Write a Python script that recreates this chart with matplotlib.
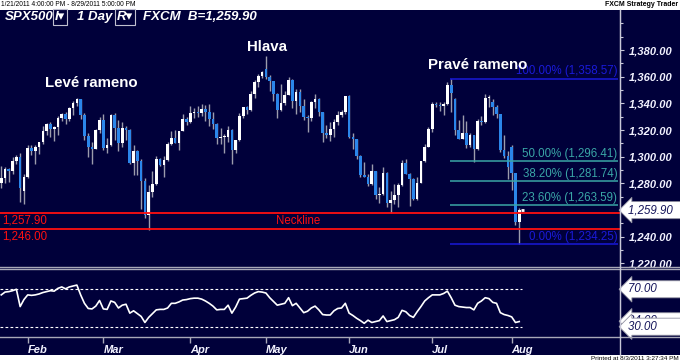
import matplotlib
matplotlib.use('Agg')
import matplotlib.pyplot as plt
from matplotlib.lines import Line2D
from matplotlib.patches import Rectangle
import pandas as pd

# bars printed by the FXCM SPX500 CFD (it also trades Feb 21, May 30 and Jul 4)
trading_days = {
    1: [21, 24, 25, 26, 27, 28, 31],
    2: [1, 2, 3, 4, 7, 8, 9, 10, 11, 14, 15, 16, 17, 18, 21, 22, 23, 24, 25, 28],
    3: [1, 2, 3, 4, 7, 8, 9, 10, 11, 14, 15, 16, 17, 18, 21, 22, 23, 24, 25, 28, 29, 30, 31],
    4: [1, 4, 5, 6, 7, 8, 11, 12, 13, 14, 15, 18, 19, 20, 21, 25, 26, 27, 28, 29],
    5: [2, 3, 4, 5, 6, 9, 10, 11, 12, 13, 16, 17, 18, 19, 20, 23, 24, 25, 26, 27, 30, 31],
    6: [1, 2, 3, 6, 7, 8, 9, 10, 13, 14, 15, 16, 17, 20, 21, 22, 23, 24, 27, 28, 29, 30],
    7: [1, 4, 5, 6, 7, 8, 11, 12, 13, 14, 15, 18, 19, 20, 21, 22, 25, 26, 27, 28, 29],
    8: [1, 2, 3],
}

opens = [1280.5, 1284.0, 1290.8, 1289.5, 1296.6, 1299.5, 1274.0,
         1285.0, 1306.5, 1304.0, 1307.1, 1310.9, 1319.1, 1324.6, 1320.9, 1321.9, 1329.2, 1332.3, 1328.0,
         1336.3, 1340.4, 1343.0, 1331.0, 1315.4, 1307.4, 1306.1, 1319.9,
         1327.2, 1306.3, 1308.4, 1331.0, 1321.2, 1310.1, 1321.8, 1320.0, 1295.1, 1304.3, 1296.4, 1281.9,
         1256.5, 1273.7, 1279.2, 1298.4, 1293.8, 1297.5, 1309.7, 1313.8, 1310.2, 1319.4, 1328.3,
         1325.8, 1332.4, 1332.9, 1332.6, 1335.5, 1333.5, 1328.2, 1324.5, 1314.2, 1314.4, 1314.5, 1319.7,
         1305.1, 1312.6, 1330.4, 1337.4, 1335.3, 1347.2, 1355.7, 1360.5,
         1366.0, 1360.0, 1356.6, 1347.3, 1335.1, 1340.2, 1346.3, 1357.2, 1342.1, 1348.7, 1337.8, 1329.5,
         1329.0, 1340.7, 1343.6, 1333.3, 1317.4, 1316.3, 1320.5, 1325.7, 1331.1, 1333.5,
         1345.2, 1314.6, 1312.9, 1300.2, 1286.2, 1284.9, 1279.6, 1289.0, 1271.0, 1271.8, 1287.9, 1265.4,
         1267.6, 1271.5, 1278.4, 1295.5, 1287.1, 1283.5, 1268.5, 1280.1, 1296.7, 1307.4,
         1320.6, 1339.7, 1339.0, 1337.9, 1339.2, 1354.0, 1343.0, 1320.0, 1313.6, 1317.7, 1308.9, 1316.1,
         1305.4, 1326.7, 1325.8, 1343.8, 1341.0, 1337.4, 1331.9, 1304.9, 1300.7,
         1307.0, 1287.5, 1251.0]
highs = [1293.3, 1291.9, 1291.3, 1299.7, 1301.3, 1302.7, 1287.2,
         1308.9, 1308.5, 1308.6, 1311.0, 1322.9, 1324.9, 1326.0, 1322.8, 1330.8, 1332.9, 1333.5, 1337.6,
         1341.5, 1344.1, 1343.5, 1333.0, 1317.9, 1310.9, 1320.6, 1329.4,
         1332.1, 1314.2, 1332.3, 1333.0, 1327.7, 1325.7, 1323.2, 1320.5, 1308.4, 1305.0, 1298.0, 1284.0,
         1279.0, 1288.9, 1300.6, 1299.3, 1300.5, 1311.3, 1319.2, 1319.7, 1319.5, 1331.7, 1329.8,
         1337.9, 1336.7, 1338.2, 1339.4, 1338.8, 1339.5, 1333.8, 1325.0, 1321.4, 1316.8, 1322.9, 1320.5,
         1312.7, 1332.7, 1337.5, 1338.0, 1349.6, 1357.5, 1361.7, 1364.6,
         1375.5, 1361.0, 1357.0, 1348.0, 1354.4, 1349.4, 1359.4, 1358.0, 1351.1, 1350.5, 1343.3, 1331.0,
         1341.8, 1346.8, 1344.0, 1333.5, 1323.7, 1325.9, 1328.5, 1334.6, 1335.0, 1345.5,
         1346.0, 1318.0, 1313.5, 1301.0, 1296.2, 1287.0, 1294.5, 1289.5, 1277.0, 1292.5, 1288.5, 1274.1,
         1279.8, 1280.4, 1297.6, 1298.6, 1288.0, 1284.0, 1284.9, 1296.8, 1309.2, 1322.0,
         1341.0, 1341.0, 1340.9, 1340.9, 1356.0, 1358.57, 1344.0, 1327.2, 1331.5, 1326.9, 1317.7, 1316.5,
         1328.1, 1330.4, 1347.0, 1346.1, 1343.0, 1338.5, 1332.0, 1316.3, 1304.0,
         1309.0, 1288.0, 1261.2]
lows = [1276.5, 1280.5, 1281.1, 1287.0, 1294.4, 1266.0, 1264.5,
        1284.0, 1301.0, 1294.8, 1301.7, 1309.5, 1316.0, 1314.9, 1311.7, 1316.1, 1326.9, 1324.6, 1327.0,
        1331.0, 1338.1, 1328.0, 1312.3, 1299.6, 1294.3, 1305.5, 1318.0,
        1305.0, 1302.6, 1308.0, 1312.6, 1303.9, 1306.9, 1312.3, 1294.2, 1286.0, 1286.4, 1261.1, 1254.0,
        1245.0, 1270.0, 1279.0, 1292.7, 1285.0, 1296.5, 1308.5, 1310.0, 1305.3, 1319.0, 1324.0,
        1325.0, 1329.1, 1330.0, 1330.7, 1326.6, 1322.9, 1321.1, 1309.5, 1309.2, 1302.4, 1311.0, 1294.7,
        1303.0, 1312.0, 1329.0, 1331.7, 1334.5, 1344.3, 1352.0, 1358.7,
        1358.6, 1349.5, 1341.5, 1329.2, 1334.0, 1338.6, 1346.0, 1336.4, 1332.0, 1333.4, 1327.3, 1318.5,
        1326.6, 1336.4, 1330.7, 1311.0, 1313.9, 1311.8, 1314.4, 1324.0, 1329.5, 1332.0,
        1313.7, 1305.6, 1297.9, 1284.9, 1284.7, 1278.1, 1279.0, 1268.3, 1265.6, 1271.5, 1261.9, 1258.1,
        1264.5, 1262.0, 1278.0, 1286.8, 1262.9, 1267.2, 1267.5, 1280.0, 1296.0, 1307.0,
        1318.2, 1337.0, 1334.3, 1330.9, 1339.0, 1333.7, 1316.4, 1313.3, 1313.0, 1306.5, 1307.4, 1295.9,
        1305.0, 1323.7, 1325.0, 1336.95, 1331.1, 1329.1, 1303.5, 1299.2, 1282.9,
        1274.7, 1249.0, 1234.25]
closes = [1284.0, 1290.8, 1289.5, 1296.6, 1299.5, 1276.3, 1285.0,
          1306.5, 1304.0, 1307.1, 1310.9, 1319.1, 1324.6, 1320.9, 1321.9, 1329.2, 1332.3, 1328.0, 1336.3,
          1340.4, 1343.0, 1331.0, 1315.4, 1307.4, 1306.1, 1319.9, 1327.2,
          1306.3, 1308.4, 1331.0, 1321.2, 1310.1, 1321.8, 1320.0, 1295.1, 1304.3, 1296.4, 1281.9, 1256.5,
          1273.7, 1279.2, 1298.4, 1293.8, 1297.5, 1309.7, 1313.8, 1310.2, 1319.4, 1328.3, 1325.8,
          1332.4, 1332.9, 1332.6, 1335.5, 1333.5, 1328.2, 1324.5, 1314.2, 1314.4, 1314.5, 1319.7, 1305.1,
          1312.6, 1330.4, 1337.4, 1335.3, 1347.2, 1355.7, 1360.5, 1363.6,
          1360.0, 1356.6, 1347.3, 1335.1, 1340.2, 1346.3, 1357.2, 1342.1, 1348.7, 1337.8, 1329.5, 1329.0,
          1340.7, 1343.6, 1333.3, 1317.4, 1316.3, 1320.5, 1325.7, 1331.1, 1333.5, 1345.2,
          1314.6, 1312.9, 1300.2, 1286.2, 1284.9, 1279.6, 1289.0, 1271.0, 1271.8, 1287.9, 1265.4, 1267.6,
          1271.5, 1278.4, 1295.5, 1287.1, 1283.5, 1268.5, 1280.1, 1296.7, 1307.4, 1320.6,
          1339.7, 1339.0, 1337.9, 1339.2, 1354.0, 1347.5, 1320.0, 1313.6, 1317.7, 1308.9, 1316.1, 1305.4,
          1326.7, 1325.8, 1343.8, 1345.0, 1337.4, 1331.9, 1304.9, 1300.7, 1292.3,
          1287.5, 1251.0, 1259.9]

rsi = [64, 67, 67.5, 68.5, 70, 51.5, 59,
       64, 63.5, 64, 65, 66.5, 67.5, 68.5, 68, 71, 72.5, 70.5, 72.5, 73.5, 74.5, 64, 55, 49.5, 49, 52, 58,
       49, 48.5, 57.5, 56, 50, 53, 54, 44.5, 47, 44, 41, 34.5, 40, 44, 48, 48.5, 48.5, 50, 55, 55, 56.5,
       58.5, 59,
       60, 60.5, 60.5, 59.5, 57.5, 55, 52, 48, 48.5, 48.5, 53, 44.5, 51, 59.5, 60, 60.5, 63.5, 66, 67.5, 67,
       66, 61, 57, 53, 54, 55, 61, 52.5, 55, 50, 45, 46.5, 50, 52, 48, 43, 42.5, 42.5, 47, 49.5, 50, 55,
       44.5, 42, 39, 36.5, 33.6, 37, 34.5, 35.5, 36.5, 41.5, 35.5, 36.5, 37.5, 40, 47.5, 46, 42, 40, 46,
       51.5, 57.5, 61,
       64, 64, 64, 65.5, 68, 61, 53, 51.5, 51, 50.5, 50.5, 48, 55, 57.5, 61, 60, 56, 55, 45, 43, 42,
       40.5, 34.5, 35.5]

month_labels = ['Feb', 'Mar', 'Apr', 'May', 'Jun', 'Jul', 'Aug']
price_ticks = [1220, 1240, 1260, 1280, 1300, 1320, 1340, 1360, 1380]
neckline = [1257.90, 1246.00]
fib_pcts = [100.0, 50.0, 38.2, 23.6, 0.0]
fib_levels = [1358.57, 1296.41, 1281.74, 1263.59, 1234.25]
fib_anchor = '2011-07-08'
rsi_bands = [70, 30]
rsi_last_label = 34.00

NAVY = '#00003a'
WHITE_UP = '#ffffff'
BLUE_DN = '#2b86ea'
WICK = '#9c9cac'
TXT = '#f2f2ff'
TEAL = '#3aa6a6'
FIB_BLUE = '#1a1ad8'
RED = '#ff1010'
GRID = '#a8a8b8'

W, H = 680, 363


def rect(x0, y0, x1, y1):
    return [x0 / W, 1 - y1 / H, (x1 - x0) / W, (y1 - y0) / H]


def px(x, y):
    return x / W, 1 - y / H


def tag(ax, y, text, zorder):
    ax.annotate(text, xy=(1.0, y), xycoords=('axes fraction', 'data'),
                xytext=(6, 0), textcoords='offset points', ha='left', va='center',
                fontsize=8.3, style='italic', color='#14145a', family='Liberation Sans',
                bbox=dict(boxstyle='larrow,pad=0.22', fc='white', ec='#9090a0', lw=0.6),
                annotation_clip=False, zorder=zorder)


def main():
    dates = [pd.Timestamp(2011, m, d) for m, ds in trading_days.items() for d in ds]
    x = list(range(len(dates)))

    plt.rcParams['font.family'] = ['Liberation Sans', 'DejaVu Sans']
    fig = plt.figure(figsize=(6.8, 3.63), dpi=100)
    fig.patch.set_facecolor('white')
    fig.add_artist(Rectangle(px(0, 355), 1, 345 / H, transform=fig.transFigure,
                             fc=NAVY, ec='none', zorder=-10))

    ax = fig.add_axes(rect(0, 10, 620, 266))
    ax2 = fig.add_axes(rect(0, 270, 620, 337), sharex=ax)
    for a in (ax, ax2):
        a.set_facecolor(NAVY)
        for s in ('top', 'left', 'bottom'):
            a.spines[s].set_visible(False)
        a.spines['right'].set_color('#c8c8d8')
        a.yaxis.tick_right()

    # candles
    colors = [WHITE_UP if c >= o else BLUE_DN for o, c in zip(opens, closes)]
    bottoms = [min(o, c) for o, c in zip(opens, closes)]
    heights = [max(abs(c - o), 0.8) for o, c in zip(opens, closes)]
    ax.vlines(x, lows, highs, color=WICK, lw=1, zorder=2)
    ax.bar(x, heights, 0.7, bottoms, color=colors, linewidth=0, zorder=3)
    ax.hlines(closes[-1], x[-1] + 0.45, x[-1] + 1.3, color='white', lw=2, zorder=3)

    ax.set_xlim(-0.33, 163.65)
    ax.set_ylim(1218, 1410)
    ax.set_yticks(price_ticks)
    ax.set_yticks(range(1220, 1410, 10), minor=True)
    # the last-price tag covers the nearest price label
    ax.set_yticklabels(['' if abs(v - closes[-1]) < 5 else '{:,.2f}'.format(v) for v in price_ticks])
    ax.tick_params(axis='y', which='both', direction='out', colors='#c8c8d8', labelcolor=TXT,
                   labelsize=8, pad=3, width=0.8)
    ax.tick_params(axis='y', which='major', length=3)
    ax.tick_params(axis='y', which='minor', length=2)
    for lab in ax.get_yticklabels():
        lab.set_fontstyle('italic')
        lab.set_fontweight('bold')
    ax.tick_params(axis='x', bottom=False, labelbottom=False)

    # neckline
    for lvl in neckline:
        ax.axhline(lvl, color=RED, lw=1.3, zorder=4)
        ax.annotate('{:,.2f}'.format(lvl), xy=(0, lvl), xycoords=('axes fraction', 'data'),
                    xytext=(1.5, -1.5), textcoords='offset points', ha='left', va='top',
                    color=RED, fontsize=8.3)
    ax.text(78.5, sum(neckline) / 2, 'Neckline', color=RED, fontsize=8.3, ha='center', va='center')

    # fibonacci retracement
    start = dates.index(pd.Timestamp(fib_anchor)) - 0.3
    for pct, lvl in zip(fib_pcts, fib_levels):
        col = FIB_BLUE if pct in (0.0, 100.0) else TEAL
        ax.hlines(lvl, start, 163.2, color=col, lw=1.1, zorder=4)
        ax.annotate('{:.2f}% ({:,.2f})'.format(pct, lvl), xy=(1.0, lvl),
                    xycoords=('axes fraction', 'data'), xytext=(-2, 0.8),
                    textcoords='offset points', ha='right', va='bottom', color=col, fontsize=8.3)

    for txt, xi, yv in [('Levé rameno', 23.7, 1355.3), ('Hlava', 70.4, 1382),
                        ('Pravé rameno', 126.1, 1368.8)]:
        ax.text(xi, yv, txt, color='white', fontsize=10.8, fontweight='bold',
                ha='center', va='center', zorder=5)

    tag(ax, closes[-1], '{:,.2f}  '.format(closes[-1]), 6)

    # RSI
    ax2.plot(x, rsi, color='white', lw=1.2)
    for b in rsi_bands:
        ax2.hlines(b, -0.33, x[-1] + 0.6, color='white', lw=0.8, linestyles=(0, (2.5, 2)))
    ax2.set_ylim(19, 90.6)
    ax2.set_yticks([])
    tag(ax2, rsi_last_label + 1.8, '{:.2f}       '.format(rsi_last_label), 5)
    for b in rsi_bands:
        tag(ax2, b, '{:.2f}       '.format(b), 6)

    month_pos = [next(i for i, d in enumerate(dates) if d.month == m) for m in range(2, 9)]
    ax2.set_xticks(month_pos)
    ax2.set_xticklabels(month_labels, ha='left')
    ax2.tick_params(axis='x', direction='out', length=4, width=1, colors=GRID, labelcolor=TXT,
                    labelsize=8, pad=2)
    for lab in ax2.get_xticklabels():
        lab.set_fontstyle('italic')
        lab.set_fontweight('bold')

    # frame lines
    for yy in (266.5, 269.0, 337.0):
        fig.add_artist(Line2D([0, 1], [1 - yy / H] * 2, transform=fig.transFigure,
                              color=GRID, lw=1))
    fig.add_artist(Line2D([620 / W] * 2, [1 - 355 / H, 1 - 10 / H], transform=fig.transFigure,
                          color='#c8c8d8', lw=1))

    # header
    hfont = dict(color='white', fontsize=9.5, fontweight='bold', style='italic', va='center')
    fig.text(*px(5, 17), 'SPX500', **hfont)
    fig.text(*px(55, 17), 'I\u25be', bbox=dict(boxstyle='square,pad=0.12', fc='none',
                                               ec='#c0c0d0', lw=0.8), **hfont)
    fig.text(*px(77, 17), '1 Day', **hfont)
    fig.text(*px(117, 17), 'R\u25be', bbox=dict(boxstyle='square,pad=0.12', fc='none',
                                               ec='#c0c0d0', lw=0.8), **hfont)
    fig.text(*px(143, 17), 'FXCM  B={:,.2f}'.format(closes[-1]), **hfont)

    fig.text(*px(1, 4.5), '1/21/2011 4:00:00 PM - 8/29/2011 5:00:00 PM', fontsize=4.8,
             color='black', va='center')
    fig.text(*px(678, 4.5), 'FXCM Strategy Trader', fontsize=5, fontweight='bold',
             color='black', va='center', ha='right')
    fig.text(*px(679, 359), 'Printed at 8/3/2011 3:27:34 PM', fontsize=4.6,
             color='black', va='center', ha='right')

    fig.savefig('out.png', dpi=100, facecolor=fig.get_facecolor())


if __name__ == '__main__':
    main()
